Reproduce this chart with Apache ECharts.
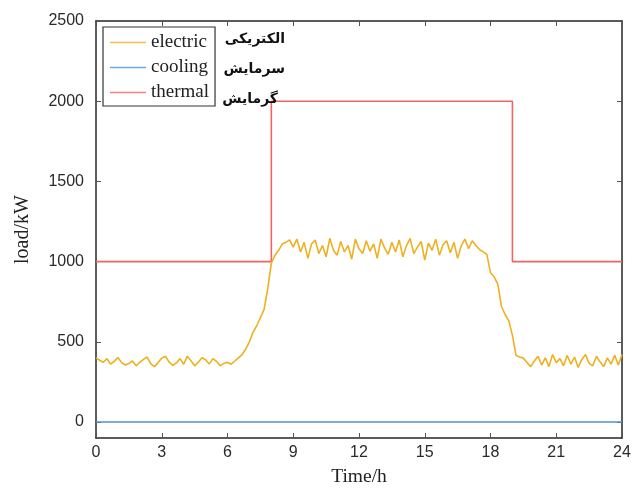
<!DOCTYPE html>
<html><head><meta charset="utf-8">
<script src="https://cdn.jsdelivr.net/npm/echarts@6/dist/echarts.min.js"></script>
<style>html,body{margin:0;padding:0;background:#fff}#c{width:638px;height:492px}</style>
</head><body><div id="c"></div>
<script>
// ---- data (10-minute resolution, hours) ----
var stepHours = 1 / 6;
var elecNight1 = [400,385,372,395,360,378,402,370,355,365,380,350,372,390,405,362,345,370,398,410,375,352,368,395,360,410,382,350,372,400,388,362,395,378,350,365,372,360,380];
var elecRampUp = [400,420,455,500,560,600,650,700,830,990,1040,1070,1110,1120,1135];
var elecDay = [1090,1140,1060,1120,1020,1110,1135,1050,1100,1030,1145,1070,1040,1125,1060,1100,1015,1140,1080,1050,1130,1065,1110,1020,1140,1085,1045,1120,1060,1135,1030,1100,1145,1050,1090,1125,1010,1115,1070,1140,1040,1105,1130,1055,1120,1020,1100,1140,1080,1130];
var elecRampDown = [1100,1075,1060,1045,930,905,860,720,670,630,540,415,405,398,370,345];
var elecNight2 = [380,410,355,400,345,420,370,395,350,415,360,405,340,390,420,365,350,410,375,345,400,360,415,355,420];
var thermalTimes = [0, 8, 8, 19, 19, 24];
var thermalValues = [1000, 1000, 2000, 2000, 1000, 1000];
var coolingTimes = [0, 24];
var coolingValues = [0, 0];
var xTicks = [0, 3, 6, 9, 12, 15, 18, 21, 24];
var yTicks = [0, 500, 1000, 1500, 2000, 2500];
var seriesNames = ['electric', 'cooling', 'thermal'];
var persianLabels = ['الکتریکی', 'سرمایش', 'گرمایش'];

var elecValues = elecNight1.concat(elecRampUp, elecDay, elecRampDown, elecNight2);
var elecData = elecValues.map(function (v, i) { return [i * stepHours, v]; });
var thermalData = thermalTimes.map(function (t, i) { return [t, thermalValues[i]]; });
var coolingData = coolingTimes.map(function (t, i) { return [t, coolingValues[i]]; });

var axisColor = '#262626';
var labelFont = { fontFamily: 'Liberation Sans, Arial', fontSize: 16, color: '#2a2a2a' };

function xAx(pos, show) {
  return {
    type: 'value', position: pos, min: 0, max: 24, interval: 3,
    axisLine: { show: true, onZero: false, lineStyle: { color: axisColor, width: 1.5 } },
    axisTick: { show: true, inside: true, length: 5, lineStyle: { color: '#555' } },
    axisLabel: Object.assign({ show: show, margin: 7, formatter: function (v) { return String(v); } }, labelFont),
    splitLine: { show: false },
    name: show ? 'Time/h' : '', nameLocation: 'middle', nameGap: 29,
    nameTextStyle: { fontFamily: 'Liberation Serif, Times New Roman', fontSize: 19.5, color: '#222' }
  };
}
function yAx(pos, show) {
  return {
    type: 'value', position: pos, min: -100, max: 2500,
    axisLine: { show: true, onZero: false, lineStyle: { color: axisColor, width: 1.5 } },
    axisTick: { show: true, inside: true, length: 5, customValues: yTicks, lineStyle: { color: '#555' } },
    axisLabel: Object.assign({ show: show, margin: 12, customValues: yTicks, formatter: function (v) { return String(v); } }, labelFont),
    splitLine: { show: false },
    name: show ? 'load/kW' : '', nameLocation: 'middle', nameGap: 63, nameRotate: 90,
    nameTextStyle: { fontFamily: 'Liberation Serif, Times New Roman', fontSize: 20, color: '#222' }
  };
}

var lineIcon = 'path://M0,0 L36,0 L36,1.6 L0,1.6 Z';

var chart = echarts.init(document.getElementById('c'));
chart.setOption({
  animation: false,
  backgroundColor: '#fff',
  grid: { left: 96, right: 16, top: 21, bottom: 54 },
  xAxis: [xAx('bottom', true), xAx('top', false)],
  yAxis: [yAx('left', true), yAx('right', false)],
  legend: {
    orient: 'vertical', left: 103, top: 27,
    data: seriesNames.map(function (n) { return { name: n, icon: lineIcon }; }),
    symbolKeepAspect: true,
    backgroundColor: '#fff', borderColor: '#333', borderWidth: 1.2, borderRadius: 0,
    padding: [6, 6, 4, 7], itemGap: 6, itemWidth: 36, itemHeight: 19,
    textStyle: { fontFamily: 'Liberation Serif, Times New Roman', fontSize: 19, lineHeight: 19, color: '#222' }
  },
  graphic: persianLabels.map(function (t, i) {
    return {
      type: 'text', x: [285, 285, 278][i], y: [39.5, 69, 99][i], z: 100,
      style: { text: t, font: 'bold 14px "DejaVu Sans"', fill: '#111', align: 'right', verticalAlign: 'middle', textAlign: 'right', textVerticalAlign: 'middle' }
    };
  }),
  series: [
    { name: 'electric', type: 'line', data: elecData, symbol: 'none', lineStyle: { color: '#EDB120', width: 1.6 }, itemStyle: { color: '#F0BE4A' }, z: 3 },
    { name: 'cooling', type: 'line', data: coolingData, symbol: 'none', lineStyle: { color: '#4F94CD', width: 1.6 }, itemStyle: { color: '#6FA8DA' }, z: 2 },
    { name: 'thermal', type: 'line', data: thermalData, symbol: 'none', lineStyle: { color: '#F06464', width: 1.6 }, itemStyle: { color: '#F38080' }, z: 2 }
  ]
});
</script></body></html>
